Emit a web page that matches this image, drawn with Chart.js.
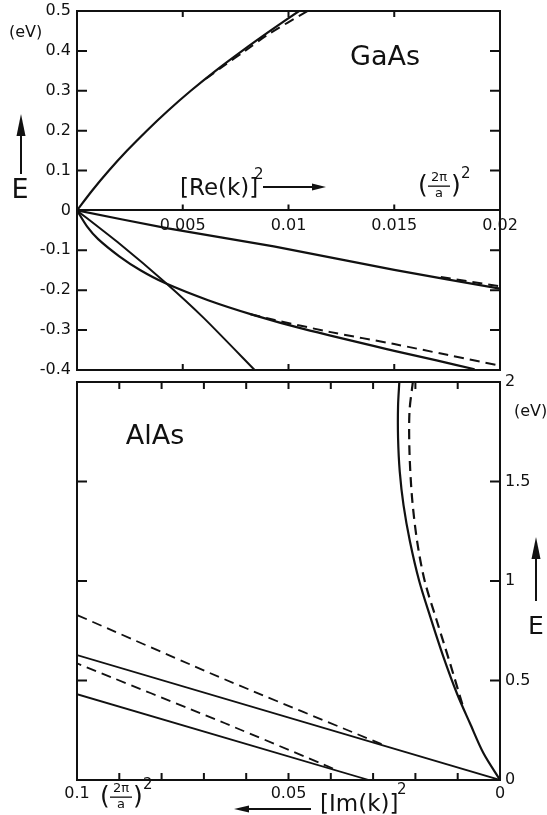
<!DOCTYPE html>
<html>
<head>
<meta charset="utf-8">
<script src="https://cdn.jsdelivr.net/npm/chart.js@4.4.0/dist/chart.umd.min.js"></script>
<style>
    body { margin: 0; background: #fff; }
    #wrap { position: relative; width: 547px; height: 815px; }
    canvas { position: absolute; left: 0; }
</style>
</head>
<body>
<div id="wrap">
    <canvas id="gaas" width="547" height="380" style="top:0"></canvas>
    <canvas id="alas" width="547" height="455" style="top:360px"></canvas>
</div>
<script>
// GaAs panel: x = [Re(k)]^2 in units of (2pi/a)^2, y = E in eV
const gaasCondK = [0, 0.00072, 0.00151, 0.00237, 0.0033, 0.0043, 0.00538, 0.00655, 0.00781, 0.00913, 0.0105];
const gaasCondE = [0, 0.05, 0.1, 0.15, 0.2, 0.25, 0.3, 0.35, 0.4, 0.45, 0.5];
const gaasCondDashK = [0.0061, 0.007, 0.0079, 0.009, 0.0109];
const gaasCondDashE = [0.33, 0.365, 0.398, 0.44, 0.5];
const gaasLightK = [0, 0.0043, 0.0093, 0.015, 0.02];
const gaasLightE = [0, -0.045, -0.09, -0.149, -0.196];
const gaasLightDashK = [0.0172, 0.02];
const gaasLightDashE = [-0.167, -0.19];
const gaasSteepK = [0, 0.002, 0.00416, 0.006, 0.0084];
const gaasSteepE = [0, -0.083, -0.18, -0.27, -0.4];
const gaasHeavyK = [0, 0.0005, 0.001, 0.002, 0.003, 0.00416, 0.0062, 0.0084, 0.0107, 0.015, 0.017, 0.0188];
const gaasHeavyE = [0, -0.042, -0.072, -0.115, -0.15, -0.182, -0.225, -0.263, -0.297, -0.352, -0.376, -0.398];
const gaasHeavyDashK = [0.0082, 0.0093, 0.012, 0.015, 0.0175, 0.02];
const gaasHeavyDashE = [-0.26, -0.274, -0.305, -0.335, -0.362, -0.389];

// AlAs panel: x = [Im(k)]^2 (axis runs right to left), y = E in eV
const alasCurveK = [0, 0.0039, 0.0071, 0.0102, 0.0134, 0.0165, 0.0191, 0.0213, 0.0228, 0.0237, 0.0241, 0.0241, 0.0238];
const alasCurveE = [0, 0.134, 0.285, 0.436, 0.62, 0.821, 1.0, 1.2, 1.38, 1.55, 1.72, 1.88, 2.0];
const alasCurveDashK = [0.0089, 0.0118, 0.015, 0.0178, 0.0196, 0.0208, 0.0214, 0.0214, 0.0206];
const alasCurveDashE = [0.38, 0.586, 0.804, 1.0, 1.2, 1.42, 1.65, 1.85, 2.0];
const alasUpperK = [0, 0.1];
const alasUpperE = [0, 0.628];
const alasUpperDashK = [0.028, 0.065, 0.1];
const alasUpperDashE = [0.18, 0.505, 0.829];
const alasLowerK = [0.031, 0.1];
const alasLowerE = [0, 0.431];
const alasLowerDashK = [0.0395, 0.065, 0.1];
const alasLowerDashE = [0.058, 0.285, 0.586];

// tick positions and labels
const gaasKTicks = [0.005, 0.01, 0.015];
const gaasETicks = [-0.3, -0.2, -0.1, 0.1, 0.2, 0.3, 0.4];
const gaasKLabels = ['0.005', '0.01', '0.015', '0.02'];
const alasKTicks = [0.01, 0.02, 0.03, 0.04, 0.05, 0.06, 0.07, 0.08, 0.09];
const alasETicks = [0.5, 1, 1.5];
const alasKLabels = {0: '0', 0.05: '0.05', 0.1: '0.1'};

const FONT = '"DejaVu Sans", sans-serif';
const INK = '#111';

function pts(xs, ys) {
    return xs.map((x, i) => ({x: x, y: ys[i]}));
}

function line(xs, ys, dashed, width, tension) {
    return {
        data: pts(xs, ys),
        showLine: true,
        borderColor: INK,
        borderWidth: width || 2.2,
        borderDash: dashed ? [10, 6] : [],
        pointRadius: 0,
        tension: tension || 0
    };
}

function arrow(ctx, x1, y1, x2, y2, head, half) {
    const ang = Math.atan2(y2 - y1, x2 - x1);
    ctx.beginPath();
    ctx.moveTo(x1, y1);
    ctx.lineTo(x2 - Math.cos(ang) * head * 0.8, y2 - Math.sin(ang) * head * 0.8);
    ctx.stroke();
    ctx.beginPath();
    ctx.moveTo(x2, y2);
    ctx.lineTo(x2 - Math.cos(ang) * head - Math.sin(ang) * half, y2 - Math.sin(ang) * head + Math.cos(ang) * half);
    ctx.lineTo(x2 - Math.cos(ang) * head + Math.sin(ang) * half, y2 - Math.sin(ang) * head - Math.cos(ang) * half);
    ctx.closePath();
    ctx.fill();
}

// the (2pi/a)^2 unit, x = left of the bracket, y = fraction bar
function unitLabel(ctx, x, y) {
    ctx.textBaseline = 'middle';
    ctx.textAlign = 'left';
    ctx.font = '25px ' + FONT;
    ctx.fillText('(', x, y);
    ctx.fillText(')', x + 33, y);
    ctx.font = '13px ' + FONT;
    ctx.textAlign = 'center';
    ctx.fillText('2π', x + 21, y - 8);
    ctx.fillText('a', x + 21, y + 8);
    ctx.fillRect(x + 10, y - 0.5, 22, 1.3);
    ctx.font = '15px ' + FONT;
    ctx.textAlign = 'left';
    ctx.fillText('2', x + 43, y - 12);
}

// frame and inward ticks
const framePlugin = {
    id: 'frame',
    afterDatasetsDraw(chart, args, opts) {
        const ctx = chart.ctx;
        const a = chart.chartArea;
        const sx = chart.scales.x;
        const sy = chart.scales.y;
        ctx.save();
        ctx.strokeStyle = INK;
        ctx.lineWidth = 2;
        ctx.strokeRect(a.left, a.top, a.right - a.left, a.bottom - a.top);
        ctx.beginPath();
        opts.xTicks.forEach(v => {
            const px = sx.getPixelForValue(v);
            ctx.moveTo(px, a.top); ctx.lineTo(px, a.top + opts.xLen);
            ctx.moveTo(px, a.bottom); ctx.lineTo(px, a.bottom - opts.xLen);
            if (opts.zeroLine) {
                const py0 = sy.getPixelForValue(0);
                ctx.moveTo(px, py0); ctx.lineTo(px, py0 - opts.xLen);
            }
        });
        opts.yTicks.forEach(v => {
            const py = sy.getPixelForValue(v);
            ctx.moveTo(a.left, py); ctx.lineTo(a.left + opts.yLen, py);
            ctx.moveTo(a.right, py); ctx.lineTo(a.right - opts.yLen, py);
        });
        ctx.stroke();
        ctx.restore();
    }
};

const gaasText = {
    id: 'gaasText',
    afterDraw(chart) {
        const ctx = chart.ctx;
        ctx.save();
        ctx.fillStyle = INK;
        ctx.strokeStyle = INK;
        ctx.textBaseline = 'middle';
        ctx.textAlign = 'left';
        ctx.font = '16px ' + FONT;
        ctx.fillText('(eV)', 9, 33);
        ctx.font = '27px ' + FONT;
        ctx.textAlign = 'center';
        ctx.fillText('E', 20, 191);
        ctx.fillText('GaAs', 385, 58);
        ctx.lineWidth = 2;
        arrow(ctx, 21, 174, 21, 114, 22, 4.5);
        ctx.textAlign = 'left';
        ctx.font = '23px ' + FONT;
        ctx.fillText('[Re(k)]', 180, 189);
        ctx.font = '15px ' + FONT;
        ctx.fillText('2', 254, 175);
        arrow(ctx, 263, 187, 326, 187, 14, 3.5);
        unitLabel(ctx, 418, 186);
        ctx.restore();
    }
};

const alasText = {
    id: 'alasText',
    afterDraw(chart) {
        const ctx = chart.ctx;
        const off = 360; // canvas top in page
        ctx.save();
        ctx.fillStyle = INK;
        ctx.strokeStyle = INK;
        ctx.textBaseline = 'middle';
        ctx.textAlign = 'center';
        ctx.font = '27px ' + FONT;
        ctx.fillText('AlAs', 155, 437 - off);
        ctx.font = '25px ' + FONT;
        ctx.fillText('E', 536, 627 - off);
        ctx.textAlign = 'left';
        ctx.font = '16px ' + FONT;
        ctx.fillText('(eV)', 514, 412 - off);
        ctx.lineWidth = 2;
        arrow(ctx, 536, 601 - off, 536, 537 - off, 22, 4.5);
        unitLabel(ctx, 100, 797 - off);
        ctx.textAlign = 'left';
        ctx.font = '23px ' + FONT;
        ctx.fillText('[Im(k)]', 320, 805 - off);
        ctx.font = '15px ' + FONT;
        ctx.fillText('2', 397, 790 - off);
        arrow(ctx, 311, 809 - off, 234, 809 - off, 15, 3.5);
        ctx.restore();
    }
};

// keep the vertical axes from adding label padding to the plot area
function fixY(width) {
    return s => {
        s.width = width;
        s.paddingTop = 0;
        s.paddingBottom = 0;
    };
}

new Chart(document.getElementById('gaas'), {
    type: 'scatter',
    data: {
        datasets: [
            line(gaasCondK, gaasCondE, false, 2.2, 0.3),
            line(gaasCondDashK, gaasCondDashE, true, 2, 0.3),
            line(gaasLightK, gaasLightE, false, 2.2, 0.2),
            line(gaasLightDashK, gaasLightDashE, true, 2),
            line(gaasSteepK, gaasSteepE, false, 2, 0.2),
            line(gaasHeavyK, gaasHeavyE, false, 2.2, 0.3),
            line(gaasHeavyDashK, gaasHeavyDashE, true, 2, 0.3)
        ]
    },
    options: {
        responsive: false,
        animation: false,
        layout: { padding: { left: 0, top: 11, right: 47, bottom: 10 } },
        plugins: {
            legend: { display: false },
            tooltip: { enabled: false },
            frame: { xTicks: gaasKTicks, yTicks: gaasETicks, xLen: 6, yLen: 10, zeroLine: true }
        },
        scales: {
            x: {
                type: 'linear',
                min: 0,
                max: 0.02,
                position: { y: 0 },
                grid: { display: false, drawTicks: false },
                border: { display: true, color: INK, width: 2 },
                ticks: {
                    stepSize: 0.005,
                    padding: 6,
                    color: INK,
                    font: { family: FONT, size: 16 },
                    maxRotation: 0,
                    autoSkip: false,
                    callback: (v, i) => i === 0 ? '' : gaasKLabels[i - 1]
                }
            },
            y: {
                min: -0.4,
                max: 0.5,
                grid: { display: false, drawTicks: false },
                border: { display: true, color: INK, width: 2 },
                ticks: {
                    stepSize: 0.1,
                    padding: 6,
                    color: INK,
                    font: { family: FONT, size: 16 },
                    callback: v => Math.abs(v) < 1e-9 ? '0' : v.toFixed(1)
                },
                afterFit: fixY(77)
            }
        }
    },
    plugins: [framePlugin, gaasText]
});

new Chart(document.getElementById('alas'), {
    type: 'scatter',
    data: {
        datasets: [
            line(alasCurveK, alasCurveE, false, 2.2, 0.3),
            line(alasCurveDashK, alasCurveDashE, true, 2.2, 0.3),
            line(alasUpperK, alasUpperE, false, 1.8),
            line(alasUpperDashK, alasUpperDashE, true, 1.8, 0.2),
            line(alasLowerK, alasLowerE, false, 1.8),
            line(alasLowerDashK, alasLowerDashE, true, 1.8, 0.2)
        ]
    },
    options: {
        responsive: false,
        animation: false,
        layout: { padding: { left: 77, top: 22, right: 0, bottom: 0 } },
        plugins: {
            legend: { display: false },
            tooltip: { enabled: false },
            frame: { xTicks: alasKTicks, yTicks: alasETicks, xLen: 7, yLen: 10, zeroLine: false }
        },
        scales: {
            x: {
                type: 'linear',
                min: 0,
                max: 0.1,
                reverse: true,
                position: 'bottom',
                grid: { display: false, drawTicks: false },
                border: { display: true, color: INK, width: 2 },
                ticks: {
                    stepSize: 0.01,
                    padding: 4,
                    color: INK,
                    font: { family: FONT, size: 16 },
                    maxRotation: 0,
                    autoSkip: false,
                    callback: v => {
                        const key = Math.round(v * 100) / 100;
                        return alasKLabels[key] !== undefined ? alasKLabels[key] : '';
                    }
                },
                afterFit: s => { s.height = 35; }
            },
            y: {
                min: 0,
                max: 2,
                position: 'right',
                grid: { display: false, drawTicks: false },
                border: { display: true, color: INK, width: 2 },
                ticks: {
                    stepSize: 0.5,
                    padding: 5,
                    color: INK,
                    font: { family: FONT, size: 16 },
                    callback: v => String(v)
                },
                afterFit: fixY(47)
            }
        }
    },
    plugins: [framePlugin, alasText]
});
</script>
</body>
</html>
